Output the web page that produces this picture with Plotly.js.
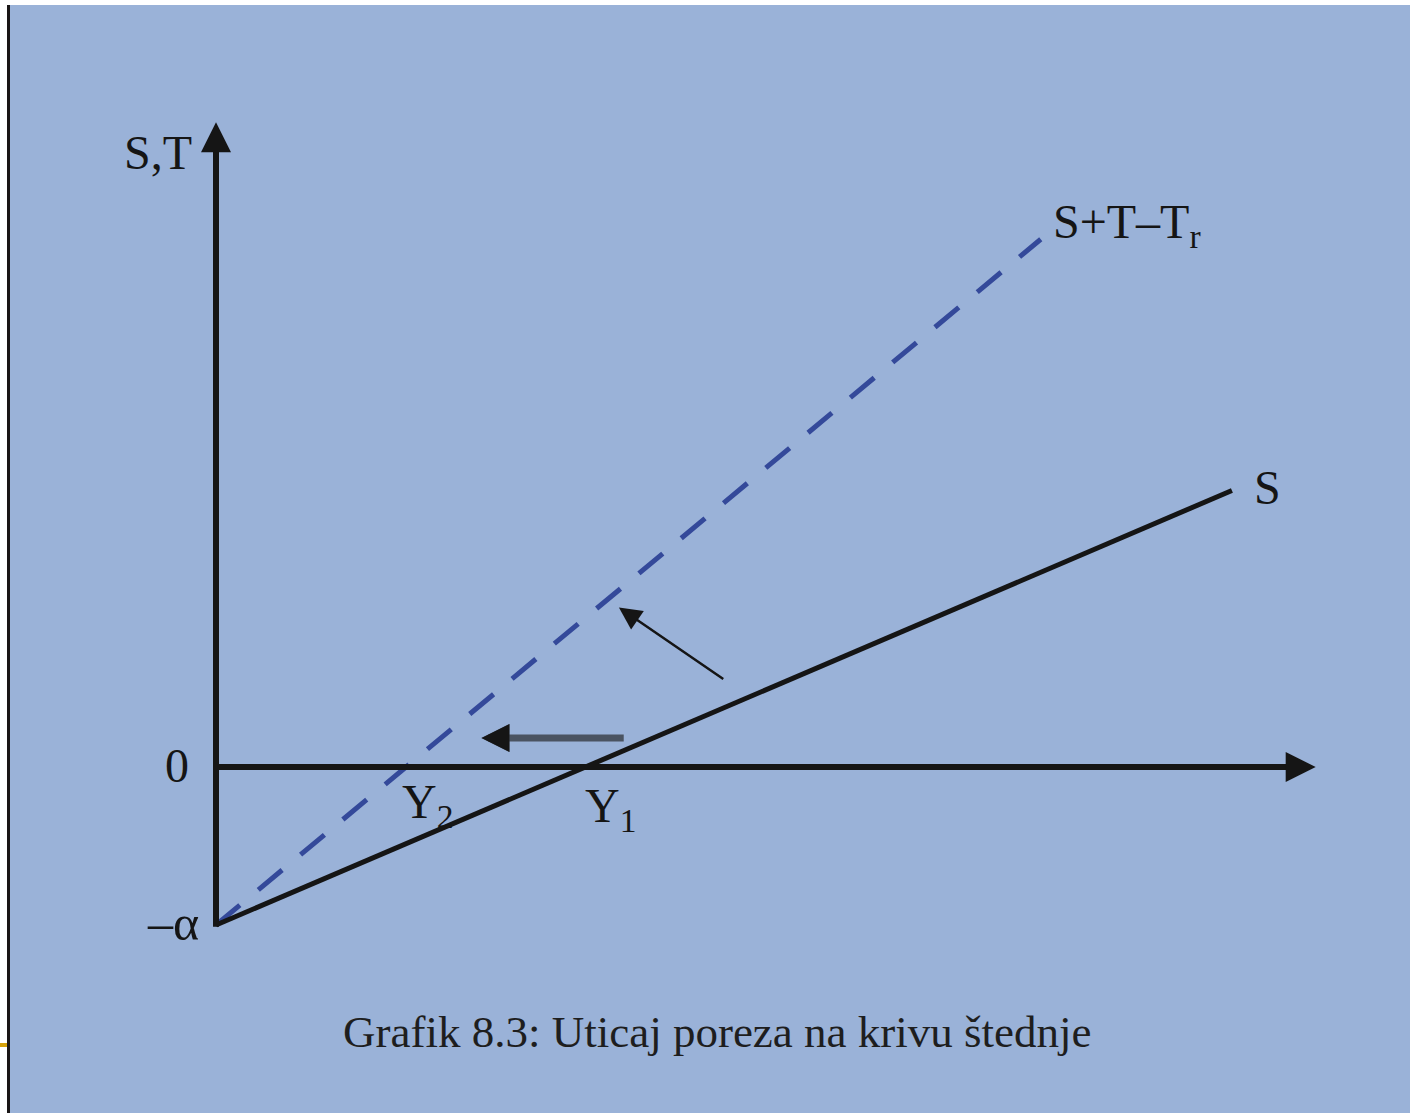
<!DOCTYPE html>
<html><head><meta charset="utf-8">
<script src="https://cdn.plot.ly/plotly-3.0.1.min.js"></script>
<style>html,body{margin:0;padding:0;background:#fff;overflow:hidden;} #chart{width:1410px;height:1113px;}</style>
</head><body><div id="chart"></div>
<script>
// ---- data (abstract units: alpha = 1) ----
const alpha = 1;
const savingX = [0, 6.43];          // S line
const savingY = [-1, 1.75];
const shiftedX = [0, 5.22];         // S+T-Tr line (dashed)
const shiftedY = [-1, 3.34];
const y1 = 2.34;                    // S crosses zero
const y2 = 1.20;                    // S+T-Tr crosses zero
const xAxisEnd = 6.96;
const yAxisTop = 4.08;
const shiftArrowX = [2.59, 1.68];   // tail, head
const shiftArrowY = [0.184, 0.184];
const rotArrowX = [3.22, 2.55];
const rotArrowY = [0.55, 1.01];
const labelAxisY = 'S,T';
const labelZero = '0';
const labelAlpha = '–α';
const labelY1 = 'Y<sub>1</sub>';
const labelY2 = 'Y<sub>2</sub>';
const labelS = 'S';
const labelShifted = 'S+T–T<sub>r</sub>';
const caption = 'Grafik 8.3: Uticaj poreza na krivu štednje';

const ink = '#151515';
const serif = 'Liberation Serif, Times New Roman, serif';

const traces = [
  {x: shiftedX, y: shiftedY, mode: 'lines', line: {color: '#34499a', width: 5, dash: '31px,24px'}, hoverinfo: 'skip'},
  {x: savingX, y: savingY, mode: 'lines', line: {color: ink, width: 5}, hoverinfo: 'skip'}
];

function arrow(x0, y0, x1, y1, w, size, color) {
  return {x: x1, y: y1, ax: x0, ay: y0, xref: 'x', yref: 'y', axref: 'x', ayref: 'y',
    text: '', showarrow: true, arrowhead: 2, arrowwidth: w, arrowsize: size, arrowcolor: color, standoff: 0, startstandoff: 0};
}
function label(text, x, y, xanchor, yanchor, xs, ys, size) {
  return {x: x, y: y, xref: 'x', yref: 'y', text: text, showarrow: false, xanchor: xanchor, yanchor: yanchor,
    xshift: xs, yshift: ys, font: {family: serif, size: size || 48, color: ink}};
}

// darker head segment of the horizontal shift arrow
const headTailX = shiftArrowX[1] + 0.2 * (shiftArrowX[0] - shiftArrowX[1]);

const annotations = [
  arrow(0, -alpha - 0.02, 0, yAxisTop, 6, 1, ink),
  arrow(0, 0, xAxisEnd, 0, 6, 1, ink),
  arrow(shiftArrowX[0], shiftArrowY[0], shiftArrowX[1], shiftArrowY[1], 7, 0.8, '#4a5361'),
  arrow(headTailX, shiftArrowY[0], shiftArrowX[1], shiftArrowY[1], 7, 0.8, ink),
  arrow(rotArrowX[0], rotArrowY[0], rotArrowX[1], rotArrowY[1], 2.5, 1.8, ink),
  label(labelAxisY, 0, yAxisTop, 'right', 'middle', -22, -30),
  label(labelZero, 0, 0, 'right', 'middle', -25, 2),
  label(labelAlpha, 0, -alpha, 'right', 'middle', -15, 2, 50),
  label(labelY2, y2, 0, 'left', 'top', -6, -6),
  label(labelY1, y1, 0, 'left', 'top', -3, -10),
  label(labelS, savingX[1], savingY[1], 'left', 'middle', 20, 3),
  label(labelShifted, shiftedX[1], shiftedY[1], 'left', 'middle', 10, 14),
  {x: 0.505, y: 0.073, xref: 'paper', yref: 'paper', text: caption, showarrow: false,
   xanchor: 'center', yanchor: 'middle', font: {family: serif, size: 45, color: '#1e1e1e'}}
];

const layout = {
  width: 1410, height: 1113,
  margin: {l: 10, r: 0, t: 5, b: 0, pad: 0},
  paper_bgcolor: '#ffffff',
  plot_bgcolor: '#9ab2d8',
  showlegend: false,
  xaxis: {range: [-1.3038, 7.557], visible: false, fixedrange: true},
  yaxis: {range: [-2.1899, 4.8228], visible: false, fixedrange: true},
  shapes: [
    {type: 'line', xref: 'paper', yref: 'paper', x0: -1.5/1400, x1: -1.5/1400, y0: 0, y1: 1, line: {color: '#1a1616', width: 3}},
    {type: 'line', xref: 'paper', yref: 'paper', x0: -10/1400, x1: -3/1400, y0: 68/1108, y1: 68/1108, line: {color: '#d4a10a', width: 4}}
  ],
  annotations: annotations
};

Plotly.newPlot('chart', traces, layout, {staticPlot: true, displayModeBar: false});
</script>
</body></html>
